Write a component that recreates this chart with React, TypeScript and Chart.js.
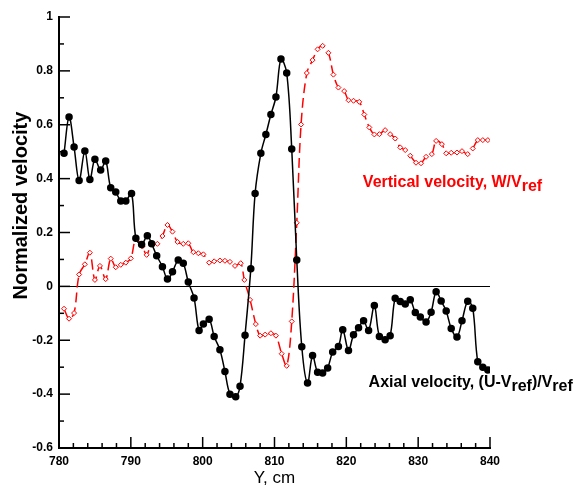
import React, { useEffect, useRef } from 'react';
import { Chart, registerables } from 'chart.js';

Chart.register(...registerables);

const FONT = '"Liberation Sans", Arial, Helvetica, sans-serif';

const xMin = 780;
const xMax = 840;
const yMin = -0.6;
const yMax = 1;

const axialX = [
  780.7, 781.4, 782.1, 782.8, 783.6, 784.3, 785.0, 785.8, 786.5, 787.2, 787.9, 788.6, 789.3, 790.1,
  790.7, 791.5, 792.3, 792.9, 793.6, 794.4, 795.1, 795.8, 796.6, 797.3, 798.0, 798.8, 799.5, 800.1,
  800.9, 801.6, 802.4, 803.1, 803.8, 804.6, 805.2, 805.9, 806.7, 807.3, 808.1, 808.8, 809.5, 810.2,
  810.9, 811.7, 812.4, 813.1, 813.8, 814.6, 815.3, 816.0, 816.7, 817.4, 818.1, 818.9, 819.5, 820.3,
  821.0, 821.7, 822.4, 823.1, 823.9, 824.6, 825.4, 826.1, 826.8, 827.5, 828.2, 828.9, 829.6, 830.3,
  831.1, 831.8, 832.5, 833.2, 833.9, 834.6, 835.4, 836.1, 836.9, 837.6, 838.3, 839.0, 839.7,
];
const axialY = [
  0.494, 0.629, 0.517, 0.393, 0.503, 0.397, 0.472, 0.432, 0.465, 0.366, 0.35, 0.317, 0.317, 0.345,
  0.179, 0.155, 0.188, 0.158, 0.114, 0.073, 0.027, 0.054, 0.098, 0.086, 0.016, -0.043, -0.164, -0.14,
  -0.122, -0.186, -0.235, -0.316, -0.4, -0.41, -0.371, -0.181, 0.065, 0.345, 0.494, 0.564, 0.638, 0.703,
  0.844, 0.792, 0.51, 0.098, -0.224, -0.359, -0.257, -0.319, -0.322, -0.303, -0.244, -0.223, -0.161, -0.238,
  -0.18, -0.154, -0.128, -0.164, -0.071, -0.186, -0.198, -0.183, -0.044, -0.056, -0.065, -0.05, -0.097, -0.114,
  -0.132, -0.096, -0.02, -0.054, -0.091, -0.156, -0.188, -0.128, -0.055, -0.081, -0.28, -0.3, -0.31,
];

const verticalX = [
  780.7, 781.4, 782.1, 782.8, 783.6, 784.3, 785.0, 785.7, 786.5, 787.2, 787.9, 788.6, 789.3, 790.0,
  790.7, 791.6, 792.2, 792.9, 793.7, 794.4, 795.1, 795.8, 796.5, 797.3, 798.0, 798.7, 799.4, 800.1,
  800.9, 801.6, 802.4, 803.1, 803.8, 804.5, 805.3, 805.8, 806.6, 807.4, 808.0, 808.7, 809.5, 810.2,
  811.0, 811.7, 812.4, 813.1, 813.7, 814.5, 815.3, 816.0, 816.7, 817.5, 818.2, 818.9, 819.7, 820.3,
  821.0, 821.8, 822.5, 823.2, 823.9, 824.6, 825.4, 826.1, 826.8, 827.5, 828.2, 828.9, 829.7, 830.4,
  831.1, 831.9, 832.5, 833.3, 833.9, 834.6, 835.4, 836.1, 836.9, 837.6, 838.3, 839.0, 839.7,
];
const verticalY = [
  -0.083, -0.12, -0.099, 0.044, 0.082, 0.125, 0.024, 0.076, 0.027, 0.103, 0.071, 0.08, 0.088, 0.104,
  0.175, 0.148, 0.117, 0.16, 0.158, 0.187, 0.228, 0.203, 0.165, 0.158, 0.16, 0.127, 0.123, 0.119,
  0.088, 0.093, 0.096, 0.095, 0.091, 0.076, 0.086, 0.024, -0.05, -0.14, -0.183, -0.179, -0.174, -0.183,
  -0.25, -0.295, -0.13, 0.236, 0.601, 0.792, 0.84, 0.88, 0.893, 0.867, 0.786, 0.738, 0.725, 0.691,
  0.689, 0.685, 0.638, 0.59, 0.564, 0.565, 0.58, 0.565, 0.549, 0.516, 0.506, 0.485, 0.459, 0.457,
  0.481, 0.491, 0.54, 0.528, 0.494, 0.496, 0.497, 0.502, 0.491, 0.512, 0.543, 0.543, 0.543,
];

const yTitle = 'Normalized velocity';
const verticalLabel: [string, boolean][] = [['Vertical velocity, W/V', false], ['ref', true]];
const axialLabel: [string, boolean][] = [
  ['Axial velocity, (U-V', false],
  ['ref', true],
  [')/V', false],
  ['ref', true],
];
const verticalLabelPos = { x: 822.3, y: 0.37 };
const axialLabelPos = { x: 823.1, y: -0.375 };
const yTitlePos = { x: 21.5, y: 0.3 };

function drawRich(ctx: CanvasRenderingContext2D, parts: [string, boolean][], x: number, y: number, color: string) {
  ctx.save();
  ctx.fillStyle = color;
  ctx.textAlign = 'left';
  ctx.textBaseline = 'alphabetic';
  ctx.font = `bold 16px ${FONT}`;
  let cx = x;
  for (const [t, sub] of parts) {
    ctx.fillText(t, cx, sub ? y + 4 : y);
    cx += ctx.measureText(t).width;
  }
  ctx.restore();
}

const decorPlugin = {
  id: 'decor',
  afterDraw(chart: any) {
    const { ctx, chartArea: area } = chart;
    const xs = chart.scales.x;
    const ys = chart.scales.y;
    ctx.save();
    ctx.strokeStyle = '#000';
    ctx.lineWidth = 1.5;
    for (let v = xMin; v <= xMax; v += 2) {
      const px = xs.getPixelForValue(v);
      const len = v % 10 === 0 ? 11 : 5;
      ctx.beginPath();
      ctx.moveTo(px, area.bottom);
      ctx.lineTo(px, area.bottom - len);
      ctx.stroke();
    }
    for (let i = Math.round(yMin * 10); i <= Math.round(yMax * 10); i++) {
      const py = ys.getPixelForValue(i / 10);
      const len = i % 2 === 0 ? 11 : 5;
      ctx.beginPath();
      ctx.moveTo(area.left, py);
      ctx.lineTo(area.left + len, py);
      ctx.stroke();
    }
    ctx.restore();

    ctx.save();
    ctx.translate(yTitlePos.x, ys.getPixelForValue(yTitlePos.y));
    ctx.rotate(-Math.PI / 2);
    ctx.fillStyle = '#000';
    ctx.textAlign = 'center';
    ctx.textBaseline = 'middle';
    ctx.font = `bold 20px ${FONT}`;
    ctx.fillText(yTitle, 0, 0);
    ctx.restore();

    drawRich(ctx, verticalLabel, xs.getPixelForValue(verticalLabelPos.x), ys.getPixelForValue(verticalLabelPos.y), '#ff0000');
    drawRich(ctx, axialLabel, xs.getPixelForValue(axialLabelPos.x), ys.getPixelForValue(axialLabelPos.y), '#000000');
  },
};

export default function App() {
  const ref = useRef<HTMLCanvasElement | null>(null);
  useEffect(() => {
    document.body.style.margin = '0';
    const canvas = ref.current;
    if (!canvas) return;
    const chart = new Chart(canvas, {
      type: 'line',
      data: {
        datasets: [
          {
            label: 'Axial velocity',
            data: axialX.map((x, i) => ({ x, y: axialY[i] })),
            borderColor: '#000000',
            backgroundColor: '#000000',
            borderWidth: 1.5,
            pointRadius: 3,
            pointStyle: 'circle',
            pointBackgroundColor: '#000000',
            pointBorderColor: '#000000',
            tension: 0.35,
            fill: false,
          },
          {
            label: 'Vertical velocity',
            data: verticalX.map((x, i) => ({ x, y: verticalY[i] })),
            borderColor: '#ff0000',
            backgroundColor: '#ffffff',
            borderWidth: 1.5,
            borderDash: [10, 5],
            pointRadius: 2.5,
            pointStyle: 'rectRot',
            pointBackgroundColor: '#ffffff',
            pointBorderColor: '#ff0000',
            pointBorderWidth: 1,
            tension: 0.35,
            fill: false,
          },
        ],
      },
      options: {
        responsive: false,
        animation: false,
        events: [],
        layout: { padding: { top: 17, right: 87, bottom: 0, left: 0 } },
        plugins: { legend: { display: false }, tooltip: { enabled: false } },
        scales: {
          x: {
            type: 'linear',
            min: xMin,
            max: xMax,
            afterFit: (s: any) => { s.height = 37; },
            ticks: {
              stepSize: 10,
              color: '#000',
              padding: 6,
              font: { family: FONT, size: 12, weight: 'bold' },
              callback: (v: any) => String(v),
            },
            grid: { display: false, drawTicks: false },
            border: { display: true, color: '#000', width: 2 },
            title: {
              display: true,
              text: 'Y, cm',
              color: '#000',
              font: { family: FONT, size: 17, weight: 'normal', lineHeight: 0.8 },
              padding: { top: 0, bottom: 0 },
            },
          },
          y: {
            type: 'linear',
            min: yMin,
            max: yMax,
            afterFit: (s: any) => { s.width = 59; },
            ticks: {
              stepSize: 0.2,
              color: '#000',
              padding: 6,
              font: { family: FONT, size: 12, weight: 'bold' },
              callback: (v: any) => String(Math.round(Number(v) * 10) / 10),
            },
            grid: {
              display: true,
              drawTicks: false,
              lineWidth: 1,
              color: (c: any) => (c.tick && Math.abs(c.tick.value) < 1e-9 ? '#000000' : 'rgba(0,0,0,0)'),
            },
            border: { display: true, color: '#000', width: 2 },
            title: { display: false },
          },
        },
      },
      plugins: [decorPlugin],
    } as any);
    return () => chart.destroy();
  }, []);
  return <canvas ref={ref} width={577} height={485} style={{ display: 'block' }} />;
}
